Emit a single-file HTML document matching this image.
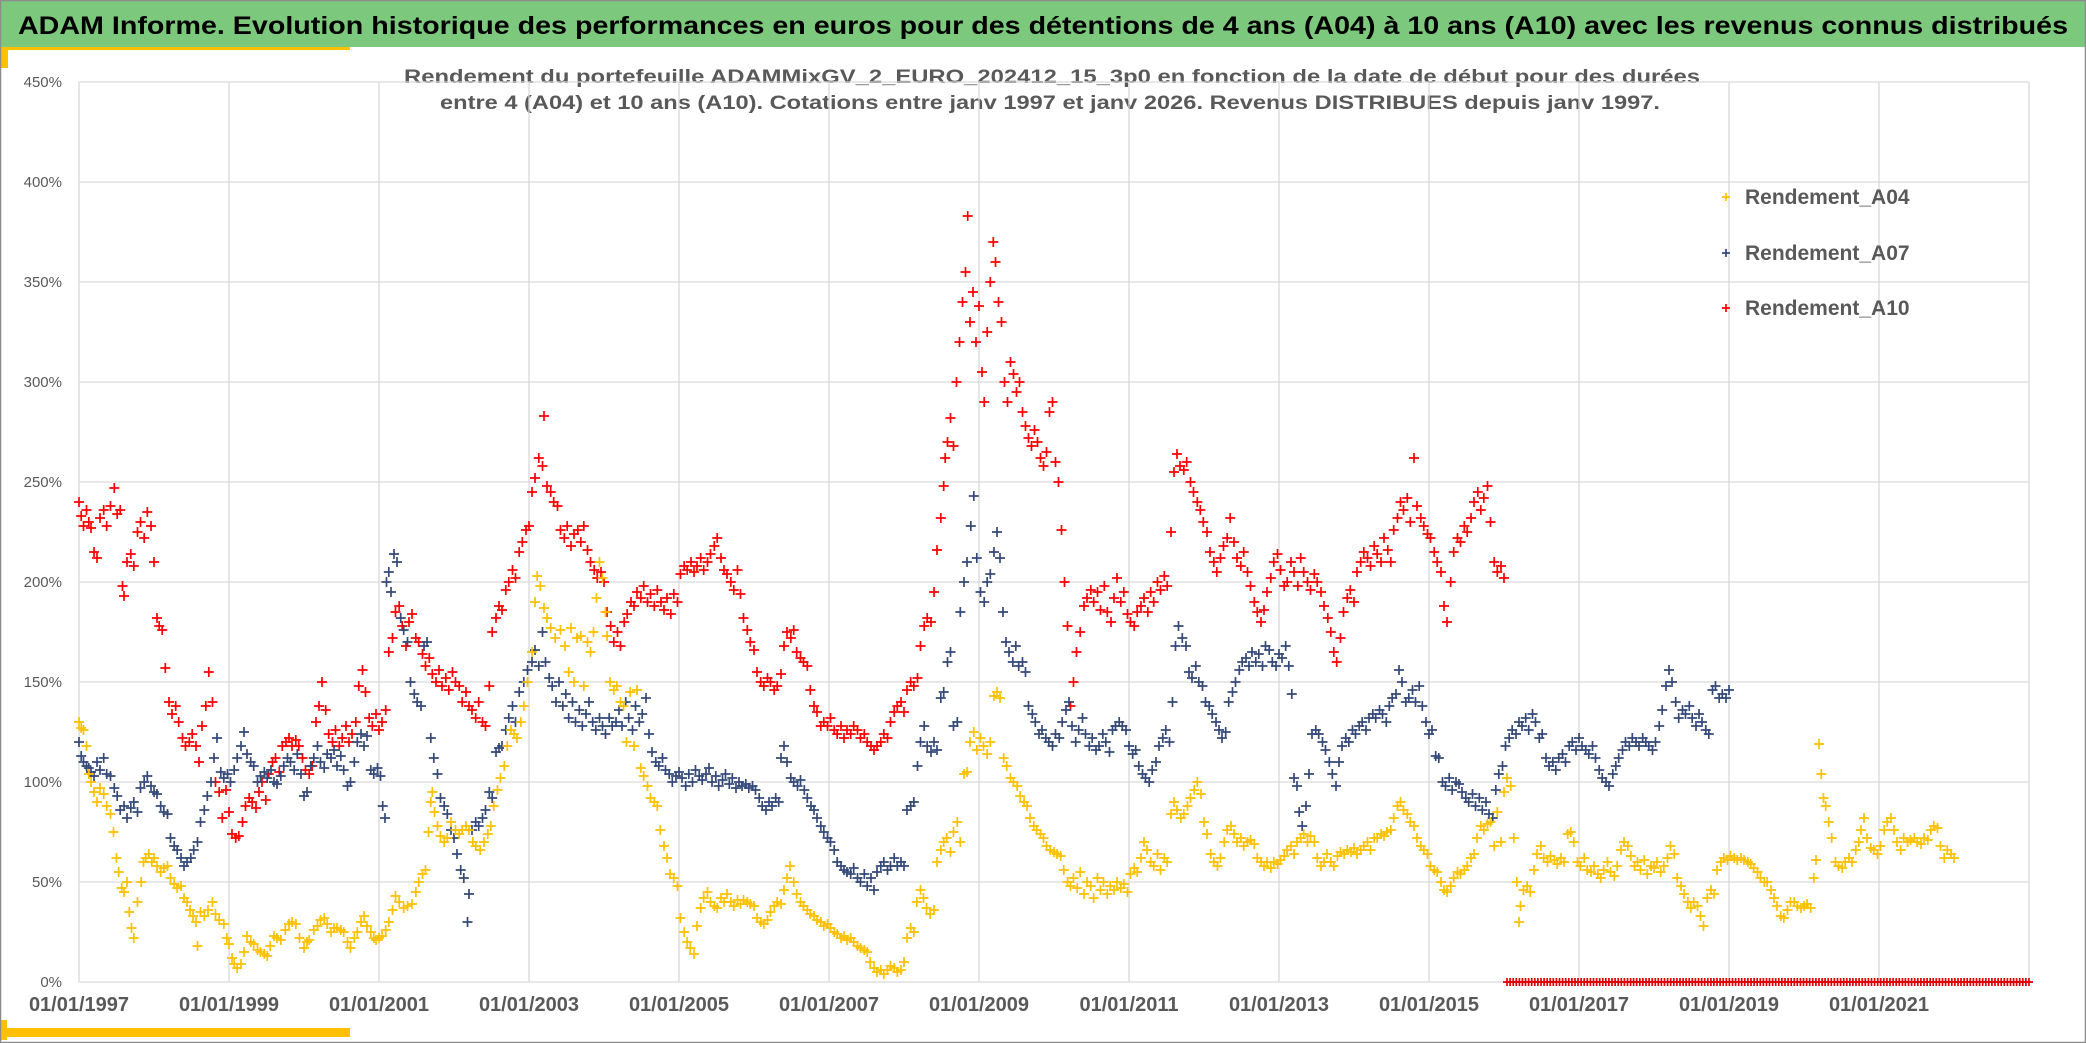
<!DOCTYPE html>
<html><head><meta charset="utf-8"><style>
html,body{margin:0;padding:0;background:#fff;width:2086px;height:1043px;overflow:hidden}
svg{display:block;font-family:"Liberation Sans",sans-serif}
</style></head><body>
<svg id="chart" width="2086" height="1043" viewBox="0 0 2086 1043" xmlns="http://www.w3.org/2000/svg">
<rect x="0.5" y="0.5" width="2085" height="1042" fill="#fff"/>
<rect x="0" y="0" width="2086" height="47" fill="#7CC87C"/>
<text x="18" y="34" font-size="25" font-weight="bold" fill="#000" textLength="2050" lengthAdjust="spacingAndGlyphs">ADAM Informe. Evolution historique des performances en euros pour des détentions de 4 ans (A04) à 10 ans (A10) avec les revenus connus distribués</text>
<rect x="0" y="47" width="350" height="3" fill="#FFC000"/>
<rect x="0" y="47" width="8" height="21" fill="#FFC000"/>
<rect x="0" y="1028" width="350" height="9" fill="#FFC000"/>
<rect x="0" y="1020" width="7" height="20" fill="#FFC000"/>
<rect x="0.5" y="0.5" width="2085" height="1042" fill="none" stroke="#8c8c8c" stroke-width="1.5"/>
<text x="1052" y="83" font-size="19" font-weight="bold" fill="#595959" text-anchor="middle" textLength="1296" lengthAdjust="spacingAndGlyphs">Rendement du portefeuille ADAMMixGV_2_EURO_202412_15_3p0  en fonction de la date de début pour des durées</text>
<text x="1050" y="109" font-size="19" font-weight="bold" fill="#595959" text-anchor="middle" textLength="1220" lengthAdjust="spacingAndGlyphs">entre 4 (A04) et 10 ans (A10). Cotations entre janv 1997 et janv 2026. Revenus DISTRIBUES depuis janv 1997.</text>
<g id="grid"></g>
<g id="axes"></g>
<g id="marks"></g>
<g id="legend"></g>
</svg>
<script>
const yTicks=[0,50,100,150,200,250,300,350,400,450];
const xTickYears=[1997,1999,2001,2003,2005,2007,2009,2011,2013,2015,2017,2019,2021];
const xTickLabels=["01/01/1997","01/01/1999","01/01/2001","01/01/2003","01/01/2005","01/01/2007","01/01/2009","01/01/2011","01/01/2013","01/01/2015","01/01/2017","01/01/2019","01/01/2021"];
const seriesNames=["Rendement_A04","Rendement_A07","Rendement_A10"];

const a04Dates=[1997.00,1997.03,1997.06,1997.10,1997.13,1997.16,1997.20,1997.24,1997.28,1997.33,1997.37,1997.42,1997.46,1997.50,1997.53,1997.57,1997.60,1997.64,1997.67,1997.70,1997.73,1997.78,1997.83,1997.86,1997.89,1997.93,1997.97,1998.00,1998.04,1998.09,1998.13,1998.18,1998.22,1998.27,1998.31,1998.36,1998.40,1998.44,1998.48,1998.52,1998.56,1998.58,1998.62,1998.67,1998.72,1998.78,1998.82,1998.87,1998.93,1998.97,1999.00,1999.04,1999.07,1999.11,1999.16,1999.20,1999.24,1999.29,1999.33,1999.38,1999.42,1999.47,1999.51,1999.55,1999.60,1999.64,1999.69,1999.75,1999.80,1999.84,1999.89,1999.94,2000.00,2000.04,2000.07,2000.13,2000.18,2000.22,2000.27,2000.31,2000.36,2000.40,2000.44,2000.49,2000.53,2000.58,2000.62,2000.67,2000.71,2000.76,2000.80,2000.84,2000.89,2000.93,2000.96,2001.00,2001.04,2001.09,2001.13,2001.18,2001.22,2001.27,2001.33,2001.38,2001.44,2001.49,2001.53,2001.58,2001.62,2001.66,2001.69,2001.71,2001.74,2001.78,2001.82,2001.87,2001.91,2001.96,2002.02,2002.07,2002.11,2002.16,2002.20,2002.25,2002.29,2002.35,2002.40,2002.45,2002.49,2002.53,2002.58,2002.62,2002.67,2002.71,2002.76,2002.80,2002.84,2002.89,2002.93,2002.98,2003.04,2003.08,2003.11,2003.15,2003.20,2003.24,2003.29,2003.35,2003.42,2003.48,2003.53,2003.56,2003.60,2003.64,2003.69,2003.73,2003.78,2003.82,2003.86,2003.90,2003.94,2003.98,2004.02,2004.04,2004.08,2004.13,2004.17,2004.22,2004.26,2004.30,2004.35,2004.40,2004.44,2004.49,2004.53,2004.58,2004.62,2004.67,2004.71,2004.75,2004.80,2004.84,2004.88,2004.93,2004.98,2005.02,2005.07,2005.11,2005.15,2005.20,2005.24,2005.29,2005.33,2005.38,2005.42,2005.47,2005.51,2005.56,2005.60,2005.64,2005.69,2005.73,2005.78,2005.82,2005.86,2005.91,2005.95,2006.00,2006.04,2006.09,2006.13,2006.18,2006.22,2006.27,2006.31,2006.36,2006.40,2006.44,2006.48,2006.53,2006.57,2006.62,2006.66,2006.71,2006.75,2006.80,2006.84,2006.89,2006.93,2006.98,2007.02,2007.07,2007.11,2007.16,2007.20,2007.24,2007.29,2007.33,2007.38,2007.42,2007.47,2007.51,2007.55,2007.60,2007.64,2007.69,2007.73,2007.78,2007.82,2007.87,2007.91,2007.96,2008.00,2008.04,2008.09,2008.13,2008.17,2008.22,2008.26,2008.30,2008.35,2008.40,2008.44,2008.49,2008.53,2008.57,2008.62,2008.66,2008.71,2008.75,2008.80,2008.84,2008.88,2008.93,2008.97,2009.02,2009.06,2009.11,2009.15,2009.20,2009.24,2009.28,2009.33,2009.37,2009.42,2009.46,2009.51,2009.55,2009.60,2009.64,2009.68,2009.73,2009.77,2009.82,2009.86,2009.90,2009.95,2010.00,2010.04,2010.09,2010.13,2010.18,2010.22,2010.26,2010.31,2010.35,2010.40,2010.44,2010.49,2010.53,2010.58,2010.62,2010.66,2010.71,2010.75,2010.80,2010.84,2010.89,2010.93,2010.98,2011.02,2011.07,2011.11,2011.16,2011.20,2011.24,2011.29,2011.33,2011.38,2011.42,2011.47,2011.51,2011.56,2011.60,2011.64,2011.69,2011.73,2011.78,2011.82,2011.87,2011.91,2011.96,2012.00,2012.04,2012.09,2012.13,2012.18,2012.22,2012.27,2012.31,2012.36,2012.40,2012.44,2012.49,2012.53,2012.58,2012.62,2012.67,2012.71,2012.76,2012.80,2012.84,2012.89,2012.93,2012.98,2013.02,2013.07,2013.11,2013.16,2013.20,2013.24,2013.29,2013.33,2013.38,2013.42,2013.47,2013.51,2013.56,2013.60,2013.64,2013.69,2013.73,2013.78,2013.82,2013.87,2013.91,2013.96,2014.00,2014.04,2014.09,2014.13,2014.18,2014.22,2014.27,2014.31,2014.36,2014.40,2014.44,2014.49,2014.53,2014.58,2014.62,2014.66,2014.71,2014.75,2014.80,2014.84,2014.89,2014.93,2014.98,2015.02,2015.07,2015.11,2015.16,2015.20,2015.24,2015.29,2015.33,2015.38,2015.42,2015.47,2015.51,2015.56,2015.60,2015.64,2015.69,2015.73,2015.78,2015.82,2015.87,2015.91,2015.96,2016.00,2016.04,2016.09,2016.13,2016.17,2016.20,2016.22,2016.26,2016.31,2016.35,2016.40,2016.44,2016.49,2016.53,2016.58,2016.62,2016.67,2016.71,2016.76,2016.80,2016.85,2016.89,2016.93,2016.98,2017.02,2017.07,2017.11,2017.16,2017.20,2017.25,2017.29,2017.33,2017.38,2017.42,2017.47,2017.51,2017.56,2017.60,2017.65,2017.69,2017.74,2017.78,2017.82,2017.87,2017.91,2017.96,2018.00,2018.04,2018.09,2018.13,2018.18,2018.22,2018.27,2018.31,2018.36,2018.40,2018.45,2018.49,2018.53,2018.58,2018.62,2018.66,2018.71,2018.76,2018.80,2018.84,2018.89,2018.93,2018.98,2019.02,2019.07,2019.11,2019.16,2019.20,2019.25,2019.29,2019.33,2019.38,2019.42,2019.47,2019.51,2019.56,2019.60,2019.64,2019.69,2019.73,2019.78,2019.82,2019.87,2019.91,2019.96,2020.00,2020.04,2020.09,2020.13,2020.16,2020.20,2020.23,2020.26,2020.29,2020.33,2020.37,2020.42,2020.46,2020.51,2020.55,2020.60,2020.64,2020.69,2020.73,2020.76,2020.80,2020.84,2020.89,2020.93,2020.98,2021.02,2021.07,2021.11,2021.16,2021.20,2021.24,2021.29,2021.33,2021.38,2021.42,2021.47,2021.51,2021.56,2021.60,2021.65,2021.69,2021.73,2021.78,2021.82,2021.87,2021.91,2021.96,2022.00];
const a04Values=[130,127,126,118,104,100,95,90,97,94,88,84,75,62,55,47,45,50,35,27,22,40,50,60,62,64,60,62,58,55,57,58,52,49,47,48,42,40,36,33,30,18,35,33,36,40,34,31,29,22,19,12,9,7,9,15,23,20,19,16,15,14,13,18,23,22,21,26,29,30,29,22,17,20,21,26,28,31,32,29,25,27,27,26,25,20,17,22,25,30,33,28,25,22,21,22,23,26,30,36,43,40,37,38,39,45,50,54,56,75,90,95,85,78,73,70,72,80,76,74,76,78,76,70,68,66,70,74,78,88,96,102,108,118,126,124,122,130,138,150,165,190,203,198,187,182,177,172,176,168,155,177,150,172,173,148,170,165,175,192,210,202,185,173,150,146,148,140,138,120,145,118,146,107,103,98,92,90,88,76,68,62,54,52,48,32,25,20,17,14,28,37,42,45,40,38,37,42,40,44,40,38,41,39,41,40,39,38,32,30,29,31,35,38,40,39,46,52,58,50,44,40,38,36,34,33,31,30,28,29,27,25,24,22,23,21,22,20,18,17,16,15,10,7,5,6,4,6,8,7,5,6,10,22,27,25,40,46,42,37,34,36,60,66,70,72,65,75,80,70,104,105,120,125,116,122,118,114,120,143,145,142,112,108,102,100,98,93,90,88,82,78,76,74,72,68,66,65,64,63,56,50,48,52,47,55,44,50,48,42,52,46,50,44,48,46,50,47,49,45,54,57,55,62,70,66,60,58,64,56,62,60,84,90,86,82,84,88,92,96,100,94,80,74,64,60,58,62,70,76,78,74,70,72,68,70,71,69,62,60,58,60,57,60,59,61,63,66,68,64,70,72,74,70,73,70,62,58,60,64,60,58,63,65,64,66,65,67,64,66,68,70,66,72,72,74,73,75,76,82,88,90,86,84,80,78,72,68,66,64,58,56,55,50,46,45,48,52,55,54,56,58,62,64,72,78,76,79,80,68,85,70,95,102,98,72,50,30,38,46,48,45,56,64,68,62,60,63,61,59,62,60,74,75,70,60,58,62,56,55,58,54,52,56,60,55,53,58,66,70,68,63,58,60,56,61,54,58,57,60,55,58,62,68,64,52,48,44,40,37,40,38,33,28,42,46,44,56,60,62,61,63,62,61,62,61,60,59,57,55,52,50,50,46,42,38,33,32,36,40,40,38,37,38,39,37,52,61,119,104,92,88,80,72,60,58,57,60,62,60,66,70,76,82,72,67,66,64,68,76,80,82,76,70,66,72,70,71,72,70,69,72,71,76,78,77,68,62,66,64,62];

const a07Dates=[1997.00,1997.03,1997.06,1997.10,1997.13,1997.16,1997.20,1997.24,1997.28,1997.33,1997.37,1997.42,1997.47,1997.51,1997.55,1997.60,1997.64,1997.69,1997.73,1997.78,1997.82,1997.87,1997.91,1997.96,1998.00,1998.04,1998.09,1998.13,1998.18,1998.22,1998.27,1998.31,1998.36,1998.40,1998.44,1998.49,1998.53,1998.58,1998.62,1998.67,1998.71,1998.76,1998.80,1998.84,1998.89,1998.93,1998.98,1999.02,1999.07,1999.11,1999.16,1999.20,1999.24,1999.29,1999.33,1999.38,1999.42,1999.47,1999.51,1999.56,1999.60,1999.64,1999.69,1999.73,1999.78,1999.82,1999.87,1999.91,1999.96,2000.00,2000.04,2000.09,2000.13,2000.18,2000.22,2000.27,2000.31,2000.36,2000.40,2000.44,2000.49,2000.53,2000.58,2000.62,2000.67,2000.71,2000.76,2000.80,2000.84,2000.89,2000.93,2000.98,2001.02,2001.05,2001.08,2001.10,2001.13,2001.16,2001.20,2001.24,2001.29,2001.33,2001.38,2001.42,2001.47,2001.51,2001.56,2001.60,2001.64,2001.69,2001.73,2001.78,2001.82,2001.87,2001.91,2001.96,2002.00,2002.04,2002.09,2002.13,2002.18,2002.20,2002.24,2002.29,2002.33,2002.38,2002.42,2002.47,2002.51,2002.56,2002.60,2002.64,2002.69,2002.73,2002.78,2002.82,2002.87,2002.93,2002.98,2003.04,2003.08,2003.13,2003.18,2003.22,2003.27,2003.31,2003.36,2003.40,2003.45,2003.49,2003.53,2003.58,2003.62,2003.67,2003.71,2003.76,2003.80,2003.85,2003.89,2003.94,2003.98,2004.02,2004.07,2004.11,2004.16,2004.20,2004.24,2004.29,2004.33,2004.38,2004.42,2004.47,2004.51,2004.56,2004.60,2004.64,2004.69,2004.73,2004.78,2004.82,2004.87,2004.91,2004.96,2005.00,2005.04,2005.09,2005.13,2005.18,2005.22,2005.27,2005.31,2005.36,2005.40,2005.44,2005.49,2005.53,2005.58,2005.62,2005.67,2005.71,2005.76,2005.80,2005.84,2005.89,2005.93,2005.98,2006.02,2006.07,2006.11,2006.16,2006.20,2006.24,2006.29,2006.33,2006.36,2006.40,2006.44,2006.49,2006.53,2006.58,2006.62,2006.67,2006.71,2006.76,2006.80,2006.84,2006.89,2006.93,2006.98,2007.02,2007.07,2007.11,2007.16,2007.20,2007.24,2007.29,2007.33,2007.38,2007.42,2007.47,2007.51,2007.56,2007.60,2007.64,2007.69,2007.73,2007.78,2007.82,2007.87,2007.91,2007.96,2008.00,2008.04,2008.09,2008.13,2008.18,2008.22,2008.27,2008.31,2008.36,2008.40,2008.44,2008.49,2008.53,2008.58,2008.62,2008.66,2008.71,2008.75,2008.80,2008.84,2008.89,2008.93,2008.97,2009.02,2009.07,2009.11,2009.15,2009.20,2009.24,2009.28,2009.32,2009.36,2009.40,2009.45,2009.49,2009.53,2009.58,2009.62,2009.66,2009.71,2009.75,2009.80,2009.84,2009.89,2009.93,2009.98,2010.02,2010.07,2010.11,2010.16,2010.20,2010.24,2010.29,2010.33,2010.38,2010.42,2010.47,2010.51,2010.56,2010.60,2010.65,2010.69,2010.74,2010.78,2010.82,2010.87,2010.91,2010.96,2011.00,2011.05,2011.09,2011.13,2011.18,2011.22,2011.27,2011.31,2011.36,2011.40,2011.45,2011.49,2011.54,2011.58,2011.62,2011.66,2011.71,2011.76,2011.80,2011.84,2011.89,2011.93,2011.98,2012.02,2012.07,2012.11,2012.16,2012.20,2012.24,2012.29,2012.33,2012.38,2012.42,2012.47,2012.51,2012.56,2012.60,2012.64,2012.69,2012.73,2012.78,2012.82,2012.87,2012.91,2012.96,2013.00,2013.04,2013.09,2013.13,2013.17,2013.20,2013.24,2013.27,2013.31,2013.36,2013.40,2013.44,2013.49,2013.53,2013.58,2013.62,2013.67,2013.71,2013.76,2013.80,2013.84,2013.89,2013.93,2013.98,2014.02,2014.07,2014.11,2014.16,2014.20,2014.25,2014.29,2014.34,2014.38,2014.43,2014.47,2014.51,2014.56,2014.60,2014.64,2014.69,2014.73,2014.78,2014.82,2014.87,2014.91,2014.96,2015.00,2015.04,2015.09,2015.13,2015.18,2015.22,2015.27,2015.31,2015.36,2015.40,2015.44,2015.49,2015.53,2015.58,2015.62,2015.67,2015.71,2015.76,2015.80,2015.85,2015.89,2015.93,2015.98,2016.02,2016.07,2016.11,2016.16,2016.20,2016.24,2016.29,2016.33,2016.38,2016.42,2016.47,2016.51,2016.56,2016.60,2016.65,2016.69,2016.73,2016.78,2016.82,2016.87,2016.91,2016.96,2017.00,2017.04,2017.09,2017.13,2017.18,2017.22,2017.27,2017.31,2017.36,2017.40,2017.45,2017.49,2017.53,2017.58,2017.62,2017.67,2017.71,2017.76,2017.80,2017.85,2017.89,2017.93,2017.98,2018.02,2018.07,2018.11,2018.16,2018.20,2018.24,2018.29,2018.33,2018.38,2018.42,2018.47,2018.51,2018.56,2018.60,2018.64,2018.69,2018.73,2018.78,2018.82,2018.87,2018.91,2018.96,2019.00];
const a07Values=[120,113,110,108,107,105,103,110,106,112,104,103,97,93,86,88,82,87,90,85,97,100,103,98,95,94,88,85,84,72,68,66,62,58,60,62,66,70,80,86,93,100,112,122,105,102,104,100,106,112,118,125,114,110,108,100,103,105,102,106,100,99,103,108,112,110,106,114,104,93,95,108,112,118,110,107,114,112,116,108,113,106,98,100,110,120,124,118,123,106,104,107,103,88,82,200,205,195,214,210,182,176,170,150,144,140,138,168,170,122,112,104,92,88,84,76,72,64,56,52,30,44,76,80,78,82,86,95,92,115,117,118,126,132,138,130,145,150,156,160,166,158,175,160,152,148,140,150,138,144,132,140,130,136,128,134,140,130,126,132,128,124,132,128,130,136,128,140,132,126,138,130,134,142,124,115,110,108,112,106,104,100,103,105,102,98,104,100,106,103,101,104,107,100,103,98,101,104,99,102,97,100,98,99,97,98,96,92,88,86,90,88,92,90,112,118,110,102,100,98,101,96,92,88,86,82,78,75,72,70,66,60,58,56,55,54,57,52,50,54,48,52,46,55,58,60,56,58,62,58,60,58,86,88,90,108,120,128,118,115,120,116,142,145,160,165,128,130,185,200,210,228,243,212,195,190,200,204,215,225,212,185,170,165,160,168,158,160,155,138,134,130,124,126,122,120,118,124,122,130,136,140,128,120,126,132,124,118,122,116,118,124,120,115,126,128,130,128,126,118,114,116,108,104,102,100,106,110,118,122,126,120,140,168,178,172,168,155,152,158,150,148,140,138,134,130,126,122,125,140,145,150,156,160,162,158,165,160,164,158,168,166,160,158,164,162,168,158,144,102,98,85,78,88,104,124,126,124,120,116,110,104,98,110,118,122,120,126,124,128,130,126,132,134,132,136,134,130,138,142,144,156,150,140,142,146,140,148,138,130,124,126,113,112,100,98,102,96,100,99,95,92,90,94,88,92,86,90,84,82,96,104,108,118,122,126,124,130,128,132,126,134,130,122,124,112,108,110,106,112,114,110,118,120,116,122,118,116,114,118,112,106,102,100,98,104,108,112,116,120,118,122,120,118,122,120,118,116,120,128,136,148,156,150,140,132,136,134,138,132,128,134,130,126,124,146,148,142,144,142,146];

const a10Dates=[1997.00,1997.03,1997.06,1997.10,1997.13,1997.16,1997.20,1997.24,1997.28,1997.33,1997.37,1997.42,1997.47,1997.51,1997.55,1997.58,1997.60,1997.64,1997.69,1997.73,1997.78,1997.82,1997.87,1997.91,1997.96,1998.00,1998.04,1998.07,1998.11,1998.15,1998.20,1998.24,1998.29,1998.33,1998.38,1998.42,1998.47,1998.51,1998.56,1998.60,1998.64,1998.69,1998.73,1998.78,1998.82,1998.87,1998.91,1998.96,1999.00,1999.04,1999.09,1999.13,1999.18,1999.22,1999.27,1999.31,1999.36,1999.40,1999.44,1999.49,1999.53,1999.58,1999.62,1999.67,1999.71,1999.76,1999.80,1999.84,1999.89,1999.93,1999.98,2000.02,2000.07,2000.11,2000.16,2000.20,2000.24,2000.29,2000.33,2000.38,2000.42,2000.47,2000.51,2000.56,2000.60,2000.64,2000.69,2000.73,2000.78,2000.82,2000.87,2000.91,2000.96,2001.00,2001.04,2001.09,2001.13,2001.18,2001.22,2001.27,2001.31,2001.36,2001.40,2001.44,2001.49,2001.53,2001.58,2001.62,2001.67,2001.71,2001.76,2001.80,2001.84,2001.89,2001.93,2001.98,2002.02,2002.07,2002.11,2002.16,2002.20,2002.24,2002.29,2002.33,2002.38,2002.42,2002.47,2002.51,2002.56,2002.60,2002.64,2002.69,2002.73,2002.78,2002.82,2002.87,2002.91,2002.96,2003.00,2003.04,2003.08,2003.13,2003.18,2003.20,2003.24,2003.29,2003.33,2003.38,2003.42,2003.47,2003.51,2003.56,2003.60,2003.65,2003.69,2003.73,2003.78,2003.82,2003.87,2003.91,2003.96,2004.00,2004.04,2004.09,2004.13,2004.18,2004.22,2004.27,2004.31,2004.36,2004.40,2004.44,2004.49,2004.53,2004.58,2004.62,2004.67,2004.71,2004.76,2004.80,2004.84,2004.89,2004.93,2004.98,2005.02,2005.07,2005.11,2005.16,2005.20,2005.24,2005.29,2005.33,2005.38,2005.42,2005.47,2005.51,2005.56,2005.60,2005.64,2005.69,2005.73,2005.78,2005.82,2005.86,2005.91,2005.95,2006.00,2006.04,2006.09,2006.13,2006.18,2006.22,2006.27,2006.31,2006.36,2006.40,2006.44,2006.49,2006.53,2006.57,2006.62,2006.66,2006.71,2006.75,2006.80,2006.84,2006.89,2006.93,2006.98,2007.02,2007.07,2007.11,2007.16,2007.20,2007.24,2007.29,2007.33,2007.38,2007.42,2007.47,2007.51,2007.56,2007.60,2007.64,2007.69,2007.73,2007.78,2007.82,2007.87,2007.91,2007.96,2008.00,2008.04,2008.09,2008.13,2008.18,2008.22,2008.27,2008.31,2008.36,2008.40,2008.44,2008.49,2008.53,2008.55,2008.58,2008.62,2008.66,2008.70,2008.74,2008.78,2008.82,2008.85,2008.88,2008.92,2008.96,2009.00,2009.04,2009.07,2009.11,2009.15,2009.19,2009.22,2009.26,2009.30,2009.34,2009.38,2009.42,2009.46,2009.50,2009.54,2009.58,2009.62,2009.66,2009.70,2009.74,2009.78,2009.82,2009.86,2009.90,2009.94,2009.98,2010.02,2010.06,2010.10,2010.14,2010.18,2010.22,2010.26,2010.30,2010.35,2010.40,2010.44,2010.49,2010.53,2010.58,2010.62,2010.67,2010.71,2010.76,2010.80,2010.84,2010.89,2010.93,2010.98,2011.02,2011.07,2011.11,2011.16,2011.20,2011.25,2011.29,2011.33,2011.38,2011.42,2011.47,2011.51,2011.56,2011.60,2011.64,2011.68,2011.73,2011.77,2011.82,2011.86,2011.91,2011.95,2011.99,2012.04,2012.08,2012.13,2012.17,2012.22,2012.26,2012.31,2012.35,2012.40,2012.44,2012.49,2012.53,2012.58,2012.62,2012.67,2012.71,2012.76,2012.80,2012.84,2012.89,2012.93,2012.98,2013.02,2013.07,2013.11,2013.16,2013.20,2013.25,2013.29,2013.33,2013.38,2013.42,2013.47,2013.51,2013.56,2013.60,2013.65,2013.69,2013.73,2013.77,2013.82,2013.86,2013.91,2013.95,2014.00,2014.04,2014.09,2014.13,2014.18,2014.22,2014.27,2014.31,2014.36,2014.40,2014.45,2014.49,2014.53,2014.58,2014.62,2014.66,2014.71,2014.75,2014.80,2014.84,2014.89,2014.93,2014.98,2015.02,2015.07,2015.11,2015.16,2015.20,2015.24,2015.29,2015.33,2015.38,2015.42,2015.47,2015.51,2015.56,2015.60,2015.65,2015.69,2015.73,2015.78,2015.82,2015.87,2015.91,2015.96,2016.00];
const a10Values=[240,233,228,236,230,227,215,212,232,236,228,238,247,234,236,198,193,210,214,208,225,230,222,235,228,210,182,178,176,157,140,134,138,130,122,118,120,124,118,110,128,138,155,140,100,95,82,96,85,74,72,73,80,88,92,90,87,95,100,91,104,110,112,105,118,120,122,118,121,118,112,106,104,108,130,138,150,136,124,120,126,118,122,128,120,124,130,148,156,145,132,128,134,126,130,136,165,172,185,188,178,168,180,184,172,170,164,158,162,154,150,156,148,152,146,155,150,148,140,145,138,136,132,140,130,128,148,175,182,188,186,196,200,206,202,215,220,226,228,245,252,262,258,283,248,245,240,238,226,222,228,218,224,226,220,228,216,210,206,202,205,200,185,178,170,175,168,180,184,190,188,195,192,198,190,194,188,196,190,186,192,184,194,190,204,208,206,210,205,208,212,206,210,214,218,222,212,206,204,200,196,206,194,182,176,170,166,155,150,148,152,150,146,148,154,168,175,172,176,165,162,160,158,146,138,135,128,130,128,132,126,124,128,122,126,124,128,126,122,124,120,118,116,118,120,124,122,130,135,138,140,135,146,150,148,152,168,178,182,180,195,216,232,248,262,270,282,268,300,320,340,355,383,330,345,320,338,305,290,325,350,370,360,340,330,300,290,310,304,295,300,285,278,272,268,276,270,262,258,265,285,290,260,250,226,200,178,138,150,165,175,188,192,196,190,195,186,198,185,180,192,202,190,195,184,180,178,185,188,192,185,195,190,200,196,203,198,225,255,264,258,256,260,250,245,240,236,230,225,215,210,205,212,218,222,232,220,212,208,215,205,198,190,185,180,186,195,202,210,214,206,198,200,210,205,198,212,205,200,196,204,200,195,188,182,175,165,160,172,185,192,196,190,205,210,215,212,208,218,214,210,222,216,210,226,232,240,236,242,230,262,238,232,228,224,222,215,210,205,188,180,200,215,222,220,228,225,232,240,245,236,242,248,230,210,205,208,202];
const a10TailValues=[0,0,0,0,0,0,0,0,0,0,0,0,0,0,0,0,0,0,0,0,0,0,0,0,0,0,0,0,0,0,0,0,0,0,0,0,0,0,0,0,0,0,0,0,0,0,0,0,0,0,0,0,0,0,0,0,0,0,0,0,0,0,0,0,0,0,0,0,0,0,0,0,0,0,0,0,0,0,0,0,0,0,0,0,0,0,0,0,0,0,0,0,0,0,0,0,0,0,0,0,0,0,0,0,0,0,0,0,0,0,0,0,0,0,0,0,0,0,0,0,0,0,0,0,0,0,0,0,0,0,0,0,0,0,0,0,0,0,0,0,0,0,0,0,0,0,0,0,0,0,0,0,0,0,0,0,0,0,0,0,0,0,0,0,0,0,0,0,0,0];
const a10TailStart=2016.04, a10TailEnd=2023.0;

const NS="http://www.w3.org/2000/svg";
const X0=79, X1=2029, YEAR0=1997, YEAR1=2023;
const Y0=982, PX_PER_PCT=2.0;
function xScale(yr){return X0+(yr-YEAR0)*(X1-X0)/(YEAR1-YEAR0);}
function yScale(v){return Y0-v*PX_PER_PCT;}
function mk(tag,attrs,parent){const e=document.createElementNS(NS,tag);for(const k in attrs)e.setAttribute(k,attrs[k]);parent.appendChild(e);return e;}

const grid=document.getElementById('grid');
const axes=document.getElementById('axes');
yTicks.forEach(t=>{
  const l=mk('line',{x1:X0,x2:X1,y1:yScale(t),y2:yScale(t),stroke:'#d9d9d9','stroke-width':1.3},grid);
  
  
  const tx=mk('text',{x:62,y:yScale(t)+5,'font-size':15,fill:'#595959','text-anchor':'end'},axes);
  tx.textContent=t+'%';
  
  
});
for(let yr=YEAR0;yr<=YEAR1;yr+=2){
  const l=mk('line',{x1:xScale(yr),x2:xScale(yr),y1:yScale(450),y2:Y0,stroke:'#d9d9d9','stroke-width':1.3},grid);
  
  
}
xTickYears.forEach((yr,i)=>{
  const tx=mk('text',{x:xScale(yr),y:1011,'font-size':20,'font-weight':'bold',fill:'#595959','text-anchor':'middle'},axes);
  tx.textContent=xTickLabels[i];
  
  
});

const marks=document.getElementById('marks');
function plus(x,y,color,parent,size){
  const h=size/2;
  const p=mk('path',{d:`M${(x-h).toFixed(1)} ${y.toFixed(1)}h${size}M${x.toFixed(1)} ${(y-h).toFixed(1)}v${size}`,stroke:color,'stroke-width':1.7,fill:'none'},parent);
  return p;
}
function drawSeries(dates,vals,color,name){
  const g=mk('g',{},marks);
  
  
  for(let i=0;i<vals.length;i++){
    const p=plus(xScale(dates[i]),yScale(vals[i]),color,g,10);
    
    
  }
}
drawSeries(a10Dates,a10Values,'#FF0000','rendement-a10');
drawSeries(a07Dates,a07Values,'#34497A','rendement-a07');
drawSeries(a04Dates,a04Values,'#FFC000','rendement-a04');
(function(){
  const g=mk('g',{},marks);
  
  
  const n=a10TailValues.length;
  for(let i=0;i<n;i++){
    const yr=a10TailStart+(a10TailEnd-a10TailStart)*i/(n-1);
    const p=plus(xScale(yr),yScale(a10TailValues[i]),'#E00000',g,8);
    
    
  }
})();

const legend=document.getElementById('legend');
const legColors=['#FFC000','#34497A','#FF0000'];
const legY=[197,253,308];
seriesNames.forEach((n,i)=>{
  const g=mk('g',{},legend);
  
  
  const p=plus(1726,legY[i],legColors[i],g,8);
  
  
  const t=mk('text',{x:1745,y:legY[i]+7,'font-size':21,'font-weight':'bold',fill:'#595959'},g);
  t.textContent=n;
  
  
});
</script>
</body></html>
